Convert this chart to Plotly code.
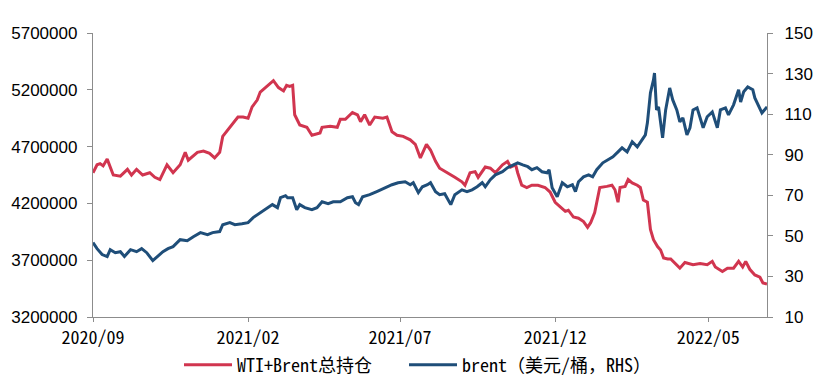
import plotly.graph_objects as go

# WTI+Brent total open interest (LHS)
oi_dates = [
    "2020-09-01","2020-09-05","2020-09-08","2020-09-11","2020-09-15","2020-09-18","2020-09-21","2020-09-28",
    "2020-10-05","2020-10-09","2020-10-14","2020-10-20","2020-10-27","2020-11-01","2020-11-06","2020-11-13",
    "2020-11-19","2020-11-26","2020-12-01","2020-12-04","2020-12-13","2020-12-19","2020-12-25","2020-12-30",
    "2021-01-04","2021-01-07","2021-01-14","2021-01-17","2021-01-22","2021-01-27","2021-02-01","2021-02-05",
    "2021-02-10","2021-02-13","2021-02-18","2021-02-23","2021-02-26","2021-03-03","2021-03-08","2021-03-11",
    "2021-03-14","2021-03-17","2021-03-19","2021-03-24","2021-03-31","2021-04-05","2021-04-13","2021-04-15",
    "2021-04-23","2021-04-30","2021-05-03","2021-05-08","2021-05-15","2021-05-20","2021-05-23","2021-05-27",
    "2021-06-01","2021-06-06","2021-06-14","2021-06-18","2021-06-23","2021-06-28","2021-07-04","2021-07-11",
    "2021-07-16","2021-07-21","2021-07-27","2021-07-31","2021-08-05","2021-08-09","2021-08-17","2021-08-24",
    "2021-08-31","2021-09-03","2021-09-08","2021-09-13","2021-09-16","2021-09-23","2021-09-28","2021-10-03",
    "2021-10-10","2021-10-15","2021-10-18","2021-10-23","2021-10-25","2021-10-29","2021-11-03","2021-11-08",
    "2021-11-14","2021-11-21","2021-11-26","2021-12-01","2021-12-06","2021-12-11","2021-12-14","2021-12-19",
    "2021-12-24","2021-12-29","2022-01-02","2022-01-05","2022-01-09","2022-01-14","2022-01-21","2022-01-26",
    "2022-01-29","2022-02-01","2022-02-03","2022-02-08","2022-02-11","2022-02-15","2022-02-20","2022-02-23",
    "2022-02-26","2022-03-02","2022-03-05","2022-03-08","2022-03-12","2022-03-15","2022-03-18","2022-03-22",
    "2022-03-25","2022-03-31","2022-04-03","2022-04-08","2022-04-16","2022-04-23","2022-04-30","2022-05-05",
    "2022-05-08","2022-05-15","2022-05-20","2022-05-26","2022-05-31","2022-06-04","2022-06-07","2022-06-11",
    "2022-06-16","2022-06-21","2022-06-24","2022-06-28",
]
oi_values = [
    4470000,4540000,4550000,4530000,4590000,4520000,4450000,4440000,
    4500000,4450000,4500000,4450000,4470000,4430000,4410000,4540000,
    4470000,4540000,4650000,4580000,4650000,4660000,4640000,4600000,
    4650000,4790000,4870000,4910000,4960000,4960000,4950000,5050000,
    5110000,5180000,5220000,5260000,5280000,5220000,5190000,5240000,
    5230000,5240000,4980000,4890000,4870000,4800000,4820000,4870000,
    4880000,4870000,4940000,4940000,5000000,4980000,4920000,4980000,
    4890000,4960000,4950000,4960000,4830000,4800000,4790000,4760000,
    4720000,4600000,4720000,4670000,4570000,4510000,4470000,4430000,
    4390000,4360000,4470000,4480000,4430000,4520000,4510000,4470000,
    4540000,4570000,4520000,4540000,4470000,4360000,4340000,4360000,
    4360000,4340000,4300000,4210000,4170000,4130000,4140000,4080000,
    4070000,4040000,3990000,4030000,4120000,4340000,4350000,4360000,
    4320000,4210000,4340000,4350000,4410000,4380000,4360000,4340000,
    4230000,4210000,3970000,3880000,3820000,3790000,3720000,3710000,
    3710000,3660000,3630000,3680000,3660000,3670000,3660000,3690000,
    3640000,3600000,3630000,3630000,3690000,3640000,3690000,3620000,
    3570000,3550000,3500000,3490000,
]

# Brent price, USD/bbl (RHS)
brent_dates = [
    "2020-09-01","2020-09-05","2020-09-10","2020-09-15","2020-09-18","2020-09-23","2020-09-28","2020-10-02",
    "2020-10-08","2020-10-14","2020-10-19","2020-10-24","2020-10-30","2020-11-04","2020-11-09","2020-11-14",
    "2020-11-19","2020-11-26","2020-12-03","2020-12-09","2020-12-16","2020-12-23","2020-12-28","2021-01-04",
    "2021-01-07","2021-01-14","2021-01-19","2021-01-26","2021-02-01","2021-02-06","2021-02-13","2021-02-20",
    "2021-02-25","2021-03-02","2021-03-05","2021-03-10","2021-03-12","2021-03-17","2021-03-21","2021-03-24",
    "2021-03-29","2021-04-05","2021-04-10","2021-04-15","2021-04-21","2021-04-26","2021-05-03","2021-05-10",
    "2021-05-15","2021-05-18","2021-05-21","2021-05-25","2021-06-01","2021-06-08","2021-06-16","2021-06-23",
    "2021-06-29","2021-07-06","2021-07-11","2021-07-14","2021-07-19","2021-07-23","2021-07-28","2021-07-31",
    "2021-08-05","2021-08-09","2021-08-14","2021-08-20","2021-08-24","2021-08-31","2021-09-05","2021-09-10",
    "2021-09-15","2021-09-20","2021-09-23","2021-09-28","2021-10-03","2021-10-10","2021-10-15","2021-10-21",
    "2021-10-25","2021-10-30","2021-11-04","2021-11-08","2021-11-13","2021-11-18","2021-11-23","2021-11-25",
    "2021-11-28","2021-12-03","2021-12-08","2021-12-13","2021-12-18","2021-12-21","2021-12-24","2021-12-29",
    "2022-01-03","2022-01-07","2022-01-11","2022-01-17","2022-01-22","2022-01-27","2022-02-01","2022-02-05",
    "2022-02-10","2022-02-15","2022-02-20","2022-02-25","2022-02-28","2022-03-02","2022-03-05","2022-03-08",
    "2022-03-09","2022-03-11","2022-03-13","2022-03-17","2022-03-20","2022-03-24","2022-03-27","2022-03-31",
    "2022-04-03","2022-04-06","2022-04-10","2022-04-13","2022-04-16","2022-04-20","2022-04-23","2022-04-26",
    "2022-04-30","2022-05-05","2022-05-10","2022-05-13","2022-05-18","2022-05-21","2022-05-26","2022-05-31",
    "2022-06-02","2022-06-05","2022-06-09","2022-06-14","2022-06-16","2022-06-19","2022-06-23","2022-06-28",
]
brent_values = [
    46.7,43.7,40.8,39.8,43.2,41.7,42.2,39.8,
    43.2,42.2,43.7,41.7,37.8,39.8,42.2,43.7,
    44.7,48.1,47.6,49.6,51.6,50.6,51.6,52.1,
    55.5,56.5,55.5,56.0,56.5,59.0,61.4,63.9,
    65.4,63.9,68.8,69.8,68.8,68.8,62.9,65.4,
    63.9,62.9,63.9,66.8,65.9,66.8,66.8,68.8,
    69.3,66.3,65.4,69.3,70.3,71.8,73.7,75.2,
    76.2,76.7,75.2,76.2,71.3,74.2,75.2,76.2,
    71.8,70.3,70.8,65.4,70.3,72.7,71.8,72.7,
    74.2,76.2,74.2,77.7,80.1,81.6,83.6,85.0,
    86.0,85.0,84.1,82.6,83.6,81.6,81.1,82.6,
    73.7,69.3,76.2,74.2,75.2,71.8,76.7,79.1,
    80.1,79.1,82.6,86.0,87.5,89.0,91.4,93.4,
    91.4,96.4,93.9,97.3,99.8,105.7,120.5,126.9,
    130.3,112.1,113.6,98.3,112.1,122.9,117.0,112.1,
    106.2,108.2,99.8,103.3,112.1,113.1,108.2,103.3,
    108.7,111.1,103.3,112.1,113.1,109.6,114.6,122.0,
    116.0,121.0,123.4,122.0,118.0,114.6,110.6,113.6,
]

x_tick_vals = ["2020-09-01", "2021-02-01", "2021-07-01", "2021-12-01", "2022-05-01"]
x_tick_text = ["2020/09", "2021/02", "2021/07", "2021/12", "2022/05"]

RED = "#D1354F"
BLUE = "#1F4E79"
AXIS = "#8C8C8C"
CJK = "Noto Sans Mono CJK SC, Noto Sans CJK SC, sans-serif"
NUM = "Liberation Sans, Arial, sans-serif"

fig = go.Figure()
fig.add_trace(go.Scatter(
    x=oi_dates, y=oi_values, mode="lines", name="WTI+Brent总持仓",
    line=dict(color=RED, width=3), yaxis="y", legend="legend",
))
fig.add_trace(go.Scatter(
    x=brent_dates, y=brent_values, mode="lines", name="brent（美元/桶，RHS）",
    line=dict(color=BLUE, width=3), yaxis="y2", legend="legend2",
))

legend_common = dict(
    orientation="h", xanchor="left", xref="paper",
    y=(387 - 365) / 387, yanchor="middle", yref="container",
    font=dict(family=CJK, size=18, color="#000000"),
    itemwidth=48, bgcolor="rgba(0,0,0,0)",
)

fig.update_layout(
    width=821, height=387,
    margin=dict(l=93, r=54, t=33, b=70, autoexpand=False),
    paper_bgcolor="white", plot_bgcolor="white",
    showlegend=True,
    legend=dict(x=(179 - 93) / 674, **legend_common),
    legend2=dict(x=(404 - 93) / 674, **legend_common),
    xaxis=dict(
        type="date", range=["2020-09-01", "2022-06-28"],
        tickvals=x_tick_vals, ticktext=x_tick_text,
        showgrid=False, zeroline=False,
        showline=True, linecolor=AXIS, linewidth=1.3,
        ticks="outside", ticklen=4, tickcolor=AXIS,
        tickfont=dict(family=CJK, size=18, color="#000000"),
    ),
    yaxis=dict(
        range=[3200000, 5700000], dtick=500000, tick0=3200000, tickformat="d",
        showgrid=False, zeroline=False,
        showline=True, linecolor=AXIS, linewidth=1.3,
        ticks="outside", ticklen=5, tickcolor=AXIS,
        tickfont=dict(family=NUM, size=17, color="#000000"),
        ticklabelstandoff=6,
    ),
    yaxis2=dict(
        range=[10, 150], dtick=20, tick0=10, overlaying="y", side="right",
        showgrid=False, zeroline=False,
        showline=True, linecolor=AXIS, linewidth=1.3,
        ticks="outside", ticklen=5, tickcolor=AXIS,
        tickfont=dict(family=NUM, size=17, color="#000000"),
        ticklabelstandoff=8,
    ),
)

fig.write_html(
    "out.html",
    config={"displayModeBar": False},
    post_script="document.body.style.margin='0';",
)
